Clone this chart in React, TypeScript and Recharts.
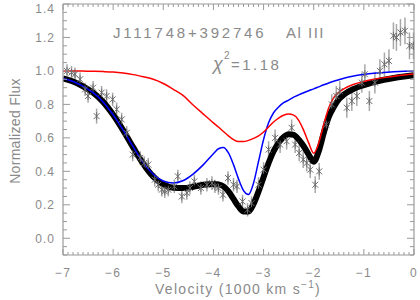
import React from "react";
import { ComposedChart, Line, Scatter, ErrorBar, XAxis, YAxis } from "recharts";

// axis ticks (majors carry labels, minors are filled in between)
const X_MAJOR = [-7, -6, -5, -4, -3, -2, -1, 0];
const X_LABELS = ["\u22127", "\u22126", "\u22125", "\u22124", "\u22123", "\u22122", "\u22121", "0"];
const Y_MAJOR = [0, 0.2, 0.4, 0.6, 0.8, 1.0, 1.2, 1.4];
const Y_LABELS = ["0.0", "0.2", "0.4", "0.6", "0.8", "1.0", "1.2", "1.4"];

// observed spectrum (velocity in 1000 km/s, normalized flux, 1-sigma error)
const OBS_V = [
  -6.92, -6.83, -6.76, -6.66, -6.56, -6.5, -6.4, -6.33, -6.23, -6.13, -6.01, -5.93, -5.83, -5.73,
  -5.61, -5.46, -5.38, -5.3, -5.17, -5.1, -5.03, -4.97, -4.9, -4.78, -4.71, -4.63, -4.53, -4.47,
  -4.38, -4.25, -4.13, -4.03, -3.97, -3.9, -3.81, -3.71, -3.6, -3.53, -3.42, -3.32, -3.24, -3.1,
  -3.0, -2.9, -2.77, -2.67, -2.54, -2.44, -2.37, -2.29, -2.21, -2.14, -2.07, -1.97, -1.89, -1.75,
  -1.64, -1.55, -1.48, -1.34, -1.24, -1.14, -1.04, -0.98, -0.89, -0.78, -0.68, -0.59, -0.5, -0.41,
  -0.35, -0.27, -0.18, -0.09, -0.01,
];
const OBS_F = [
  1.0, 0.99, 0.98, 0.95, 0.89, 0.85, 0.9, 0.73, 0.87, 0.85, 0.83, 0.77, 0.71, 0.63,
  0.5, 0.48, 0.45, 0.44, 0.35, 0.32, 0.29, 0.28, 0.29, 0.31, 0.37, 0.25, 0.27, 0.3,
  0.34, 0.3, 0.32, 0.33, 0.31, 0.3, 0.26, 0.36, 0.32, 0.31, 0.22, 0.17, 0.21, 0.32,
  0.41, 0.53, 0.6, 0.56, 0.58, 0.66, 0.56, 0.51, 0.47, 0.45, 0.41, 0.32, 0.4, 0.68,
  0.8, 0.85, 0.88, 0.78, 0.82, 0.85, 0.93, 0.98, 0.82, 0.93, 1.0, 1.04, 1.06, 1.21,
  1.2, 1.23, 1.24, 1.15, 1.15,
];
const OBS_E = [
  0.04, 0.04, 0.04, 0.04, 0.04, 0.04, 0.04, 0.045, 0.04, 0.04, 0.04, 0.04, 0.04, 0.04,
  0.04, 0.04, 0.04, 0.04, 0.04, 0.04, 0.04, 0.04, 0.04, 0.04, 0.04, 0.04, 0.04, 0.04,
  0.04, 0.04, 0.04, 0.04, 0.04, 0.04, 0.04, 0.04, 0.04, 0.04, 0.04, 0.04, 0.04, 0.045,
  0.045, 0.05, 0.05, 0.05, 0.05, 0.05, 0.05, 0.05, 0.05, 0.05, 0.05, 0.05, 0.05, 0.055,
  0.06, 0.06, 0.06, 0.06, 0.06, 0.06, 0.06, 0.06, 0.06, 0.065, 0.07, 0.07, 0.07, 0.08,
  0.08, 0.08, 0.08, 0.08, 0.08,
];

// model curves on a common velocity grid
const FIT_V = [
  -7.0, -6.8, -6.6, -6.4, -6.2, -6.0, -5.8, -5.6, -5.4, -5.2, -5.0, -4.8, -4.6, -4.4, -4.2, -4.0,
  -3.9, -3.8, -3.7, -3.6, -3.5, -3.4, -3.3, -3.2, -3.1, -3.0, -2.9, -2.8, -2.7, -2.6, -2.5, -2.4,
  -2.3, -2.2, -2.1, -2.0, -1.9, -1.8, -1.7, -1.6, -1.5, -1.4, -1.2, -1.0, -0.8, -0.6, -0.4, -0.2, 0.0,
];
const FIT_TOTAL = [
  0.955, 0.937, 0.908, 0.87, 0.815, 0.738, 0.645, 0.543, 0.445, 0.368, 0.322, 0.302, 0.3, 0.308, 0.32, 0.325,
  0.322, 0.31, 0.28, 0.235, 0.19, 0.16, 0.16, 0.205, 0.28, 0.365, 0.45, 0.52, 0.57, 0.605, 0.622, 0.618,
  0.59, 0.55, 0.5, 0.458, 0.52, 0.63, 0.725, 0.785, 0.83, 0.858, 0.893, 0.915, 0.933, 0.947, 0.958, 0.967, 0.975,
];
const FIT_BLUE = [
  0.955, 0.937, 0.908, 0.87, 0.815, 0.738, 0.646, 0.546, 0.452, 0.383, 0.342, 0.33, 0.345, 0.385, 0.44, 0.505,
  0.535, 0.543, 0.51, 0.44, 0.355, 0.285, 0.262, 0.33, 0.46, 0.59, 0.69, 0.75, 0.785, 0.81, 0.826, 0.843,
  0.857, 0.87, 0.882, 0.893, 0.905, 0.917, 0.928, 0.938, 0.947, 0.956, 0.97, 0.979, 0.986, 0.991, 0.995, 0.998, 1.0,
];
const FIT_RED = [
  1.0, 1.0, 0.999, 0.998, 0.996, 0.993, 0.987, 0.978, 0.965, 0.95, 0.925, 0.89, 0.852, 0.795, 0.742, 0.69,
  0.665, 0.638, 0.612, 0.59, 0.578, 0.578, 0.585, 0.597, 0.612, 0.635, 0.665, 0.695, 0.718, 0.735, 0.742, 0.736,
  0.705, 0.645, 0.57, 0.508, 0.57, 0.68, 0.78, 0.84, 0.872, 0.893, 0.92, 0.937, 0.95, 0.96, 0.968, 0.976, 0.982,
];

const obsData = OBS_V.map((x, i) => ({ x, y: OBS_F[i], e: OBS_E[i] }));
const totalData = FIT_V.map((x, i) => ({ x, y: FIT_TOTAL[i] }));
const blueData = FIT_V.map((x, i) => ({ x, y: FIT_BLUE[i] }));
const redData = FIT_V.map((x, i) => ({ x, y: FIT_RED[i] }));

// minor ticks every 0.1 in x and 0.05 in y
const xTicks = Array.from({ length: 71 }, (_, i) => X_MAJOR[0] + i / 10);
const yTicks = Array.from({ length: 31 }, (_, i) => -0.1 + i / 20);

const AXIS = "#9a9a9a";
const TEXT = "#8a8a8a";
const FONT = "'Liberation Sans', Arial, sans-serif";

const isXMajor = (v: number) => Math.abs(v - Math.round(v)) < 1e-6;
const isYMajor = (v: number) => Math.abs(v * 5 - Math.round(v * 5)) < 1e-6 && v > -0.05;

function xTick(side: "bottom" | "top") {
  return (props: any) => {
    const { x, y, payload } = props;
    const v = payload.value;
    const major = isXMajor(v);
    const dir = side === "bottom" ? -1 : 1;
    const idx = X_MAJOR.indexOf(Math.round(v));
    return (
      <g>
        <line x1={x} x2={x} y1={y} y2={y + dir * (major ? 6 : 3)} stroke={AXIS} strokeWidth={1} />
        {side === "bottom" && major && (
          <text x={x} y={y + 22} textAnchor="middle" fill={TEXT} fontSize={12} fontFamily={FONT} letterSpacing={1.5}>
            {X_LABELS[idx]}
          </text>
        )}
      </g>
    );
  };
}

function yTick(side: "left" | "right") {
  return (props: any) => {
    const { x, y, payload } = props;
    const v = payload.value;
    const major = isYMajor(v);
    const dir = side === "left" ? 1 : -1;
    const idx = Y_MAJOR.findIndex((m) => Math.abs(m - v) < 1e-6);
    // the top label sits a little lower so it is not clipped by the edge
    const ty = idx === Y_MAJOR.length - 1 ? y + 9 : y + 4.5;
    return (
      <g>
        <line x1={x} x2={x + dir * (major ? 7 : 4)} y1={y} y2={y} stroke={AXIS} strokeWidth={1} />
        {side === "left" && major && idx >= 0 && (
          <text x={x - 8} y={ty} textAnchor="end" fill={TEXT} fontSize={12} fontFamily={FONT} letterSpacing={1}>
            {Y_LABELS[idx]}
          </text>
        )}
      </g>
    );
  };
}

function Asterisk(props: any) {
  const { cx, cy } = props;
  if (cx == null || cy == null) return null;
  const s = 3;
  return (
    <g stroke="#6e6e6e" strokeWidth={1}>
      <line x1={cx - s} y1={cy - s} x2={cx + s} y2={cy + s} />
      <line x1={cx - s} y1={cy + s} x2={cx + s} y2={cy - s} />
      <line x1={cx} y1={cy - s - 1} x2={cx} y2={cy + s + 1} />
    </g>
  );
}

export default function App() {
  return (
    <div style={{ position: "absolute", left: 0, top: 0, width: 420, height: 300, background: "#fff" }}>
      <ComposedChart width={420} height={300} margin={{ top: 4, right: 6, bottom: 15, left: 13 }}>
        <XAxis
          dataKey="x"
          type="number"
          domain={[-7, 0]}
          allowDataOverflow
          ticks={xTicks}
          interval={0}
          height={30}
          tickSize={0}
          tickMargin={0}
          tickLine={false}
          axisLine={{ stroke: AXIS, strokeWidth: 1.2 }}
          tick={xTick("bottom")}
        />
        <XAxis
          xAxisId="top"
          dataKey="x"
          type="number"
          orientation="top"
          mirror
          domain={[-7, 0]}
          allowDataOverflow
          ticks={xTicks}
          interval={0}
          height={10}
          tickSize={0}
          tickMargin={0}
          tickLine={false}
          axisLine={{ stroke: AXIS, strokeWidth: 1.2 }}
          tick={xTick("top")}
        />
        <YAxis
          dataKey="y"
          type="number"
          domain={[-0.1, 1.4]}
          allowDataOverflow
          ticks={yTicks}
          interval={0}
          width={50}
          tickSize={0}
          tickMargin={0}
          tickLine={false}
          axisLine={{ stroke: AXIS, strokeWidth: 1.2 }}
          tick={yTick("left")}
        />
        <YAxis
          yAxisId="right"
          dataKey="y"
          type="number"
          orientation="right"
          mirror
          domain={[-0.1, 1.4]}
          allowDataOverflow
          ticks={yTicks}
          interval={0}
          width={10}
          tickSize={0}
          tickMargin={0}
          tickLine={false}
          axisLine={{ stroke: AXIS, strokeWidth: 1.2 }}
          tick={yTick("right")}
        />
        <Scatter data={obsData} dataKey="y" shape={<Asterisk />} isAnimationActive={false}>
          <ErrorBar dataKey="e" direction="y" width={0} stroke="#a8a8a8" strokeWidth={1.5} />
        </Scatter>
        <Line data={totalData} dataKey="y" type="monotone" stroke="#000" strokeWidth={6} dot={false} isAnimationActive={false} />
        <Line data={blueData} dataKey="y" type="monotone" stroke="#0000ff" strokeWidth={1.5} dot={false} isAnimationActive={false} />
        <Line data={redData} dataKey="y" type="monotone" stroke="#ff0000" strokeWidth={1.5} dot={false} isAnimationActive={false} />
      </ComposedChart>
      <svg width={420} height={300} style={{ position: "absolute", left: 0, top: 0, pointerEvents: "none" }}>
        <g fill={TEXT} fontFamily={FONT}>
          <text x={113} y={38} fontSize={15} letterSpacing={2.8}>J111748+392746</text>
          <text x={286} y={38} fontSize={15} letterSpacing={1.5}>Al III</text>
          <text x={213} y={70} fontSize={18} fontStyle="italic">{"\u03c7"}</text>
          <text x={224} y={59} fontSize={10}>2</text>
          <text x={231} y={70} fontSize={15} letterSpacing={2.5}>=1.18</text>
          <text x={238} y={294} fontSize={14} letterSpacing={1.3} textAnchor="middle">
            Velocity (1000 km s<tspan fontSize={10} dy={-6}>{"\u22121"}</tspan>
            <tspan dy={6}>)</tspan>
          </text>
          <text
            x={0}
            y={0}
            fontSize={14}
            letterSpacing={0.3}
            textAnchor="middle"
            transform="translate(20 131) rotate(-90)"
          >
            Normalized Flux
          </text>
        </g>
      </svg>
    </div>
  );
}
